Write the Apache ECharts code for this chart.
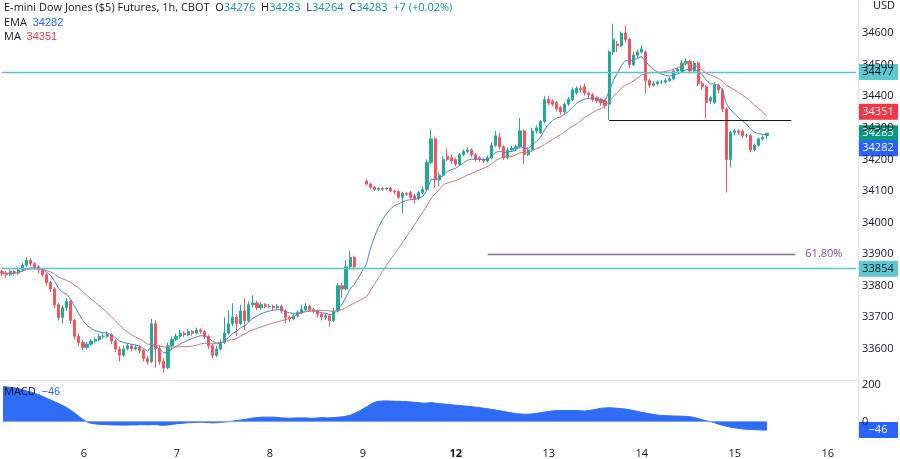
<!DOCTYPE html>
<html><head><meta charset="utf-8">
<script src="https://cdn.jsdelivr.net/npm/echarts@6/dist/echarts.min.js"></script>
<style>html,body{margin:0;padding:0;background:#fff}#c{width:900px;height:459px}</style>
</head><body><div id="c"></div>
<script>
// [open, close, low, high] per hourly candle; null = session break
const ohlc = [
[33845,33840,33830,33850],[33840,33835,33825,33848],[33835,33845,33830,33852],[33845,33840,33832,33850],[33840,33850,33835,33858],
[33850,33865,33845,33872],[33865,33880,33860,33890],[33880,33870,33862,33888],[33870,33860,33850,33875],[33860,33850,33840,33866],
[33850,33835,33828,33855],[33835,33810,33800,33840],[33810,33790,33780,33815],[33790,33740,33730,33795],[33740,33700,33690,33745],
[33700,33730,33680,33738],[33730,33750,33720,33760],[33750,33690,33680,33755],[33690,33640,33630,33695],[33640,33620,33610,33650],
[33620,33605,33595,33628],[33605,33615,33598,33622],[33615,33625,33610,33632],[33625,33630,33618,33638],[33630,33640,33625,33648],
[33640,33640,33632,33650],[33640,33645,33635,33655],[33645,33625,33615,33650],[33625,33600,33590,33630],[33600,33580,33560,33608],
[33580,33600,33575,33610],[33600,33610,33595,33618],[33610,33600,33592,33616],[33600,33605,33595,33612],[33605,33595,33585,33610],
[33595,33570,33560,33600],[33570,33560,33550,33578],[33560,33680,33555,33695],[33680,33600,33540,33690],[33600,33560,33550,33610],
[33560,33540,33525,33570],[33540,33610,33535,33620],[33610,33630,33600,33640],[33630,33640,33625,33648],[33640,33650,33632,33660],
[33650,33645,33638,33656],[33645,33655,33640,33662],[33655,33650,33642,33660],[33650,33660,33645,33668],[33660,33655,33648,33665],
[33655,33640,33632,33660],[33640,33610,33600,33645],[33610,33580,33570,33615],[33580,33600,33575,33610],[33600,33620,33595,33630],
[33620,33650,33615,33700],[33650,33680,33645,33720],[33680,33700,33672,33745],[33700,33680,33640,33710],[33680,33720,33675,33740],
[33720,33690,33660,33760],[33690,33740,33685,33750],[33740,33745,33732,33770],[33745,33730,33722,33752],[33730,33740,33725,33748],
[33740,33735,33728,33745],[33735,33735,33728,33742],[33735,33730,33722,33740],[33730,33735,33725,33742],[33735,33720,33712,33740],
[33720,33700,33680,33725],[33700,33695,33685,33705],[33695,33705,33690,33712],[33705,33715,33700,33722],[33715,33725,33710,33740],
[33725,33735,33720,33745],[33735,33725,33718,33740],[33725,33720,33712,33730],[33720,33710,33700,33725],[33710,33700,33690,33715],
[33700,33705,33692,33712],[33705,33690,33670,33710],[33690,33720,33685,33730],[33720,33800,33715,33810],[33800,33790,33760,33810],
[33790,33860,33785,33880],[33860,33890,33850,33910],[33890,33860,33850,33895],
null,null,
[34132,34122,34118,34136],[34122,34112,34108,34126],[34112,34105,34100,34116],[34105,34108,34100,34112],[34108,34106,34100,34112],
[34106,34108,34102,34112],[34108,34100,34095,34112],[34100,34098,34090,34104],[34098,34080,34075,34102],[34080,34092,34030,34098],
[34092,34090,34084,34096],[34095,34080,34075,34100],[34085,34075,34060,34090],[34075,34095,34070,34100],[34095,34105,34090,34115],
[34105,34190,34100,34200],[34190,34265,34185,34295],[34265,34135,34110,34270],[34135,34150,34115,34160],[34150,34200,34145,34210],
[34210,34200,34195,34235],[34205,34195,34185,34215],[34200,34185,34178,34205],[34185,34215,34180,34220],[34215,34225,34210,34232],
[34225,34230,34220,34238],[34230,34215,34208,34235],[34215,34200,34192,34220],[34205,34200,34192,34210],[34200,34195,34188,34205],
[34195,34205,34190,34212],[34205,34245,34200,34255],[34245,34275,34240,34290],[34270,34240,34232,34285],[34240,34205,34198,34245],
[34205,34230,34200,34238],[34230,34235,34225,34242],[34235,34240,34228,34248],[34240,34290,34235,34330],[34290,34215,34185,34295],
[34215,34230,34210,34238],[34230,34290,34225,34300],[34290,34300,34282,34308],[34285,34320,34280,34325],[34320,34390,34315,34400],
[34390,34380,34372,34402],[34385,34375,34368,34390],[34380,34360,34352,34385],[34365,34350,34342,34370],[34350,34375,34345,34380],
[34375,34390,34370,34398],[34390,34420,34385,34428],[34410,34425,34405,34432],[34425,34420,34412,34435],[34430,34410,34402,34440],
[34410,34405,34395,34415],[34405,34390,34382,34410],[34395,34385,34378,34400],[34390,34380,34370,34395],[34385,34370,34360,34392],
[34375,34540,34325,34545],[34540,34580,34530,34630],[34565,34560,34540,34575],[34560,34600,34555,34605],[34600,34580,34570,34625],
[34580,34500,34490,34585],[34500,34530,34495,34540],[34530,34540,34522,34548],[34540,34550,34535,34562],[34540,34450,34410,34545],
[34450,34435,34428,34455],[34435,34440,34430,34448],[34440,34445,34435,34450],[34445,34445,34438,34452],[34445,34450,34440,34456],
[34450,34455,34445,34460],[34455,34480,34450,34485],[34480,34485,34475,34492],[34480,34505,34475,34515],[34505,34510,34498,34520],
[34510,34480,34472,34515],[34480,34505,34475,34512],[34505,34440,34432,34510],[34440,34430,34420,34448],[34430,34380,34330,34435],
[34385,34395,34375,34402],[34380,34435,34375,34445],[34435,34420,34410,34440],[34420,34360,34350,34425],[34360,34200,34095,34365],
[34200,34285,34175,34290],[34285,34290,34275,34298],[34290,34285,34278,34295],[34290,34275,34268,34295],[34275,34275,34268,34282],
[34275,34230,34222,34280],[34230,34245,34225,34250],[34245,34265,34240,34270],[34265,34270,34260,34276],[34276,34283,34264,34283]
];
const macd = [
190,188,185,182,178,172,165,160,152,145,135,125,115,105,95,85,72,58,42,25,8,
-5,-10,-13,-15,-16,-17,-18,-18,-19,-19,-19,-18,-18,-17,-17,
-18,-16,-17,-20,-20,-18,-15,-12,-10,-8,-6,-5,-4,-3,-5,-6,-7,-6,-4,-2,
0,3,6,9,12,16,20,22,24,24,24,24,22,20,19,18,19,20,20,20,
18,18,20,22,20,21,22,24,26,30,35,45,55,68,
80,95,105,110,112,112,111,110,110,109,
108,106,104,102,100,101,103,100,97,95,
93,91,89,87,85,83,81,78,75,72,
69,66,62,58,54,50,46,43,41,40,
40,42,45,48,52,55,58,60,60,60,
60,60,60,58,57,60,64,68,72,74,
75,74,72,70,68,64,60,55,50,46,
42,38,35,33,32,31,30,30,29,28,
26,22,16,10,4,0,-6,-14,-20,-26,
-30,-34,-37,-40,-42,-43,-44,-45,-46,-46
];
const dayLabels = {20:'6',43:'7',66:'8',89:'9',112:'12',135:'13',158:'14',181:'15',204:'16'};
const levels = {resistance:34477, support:33854, box:34325, fib:33900};
const NCAT = 212;

const cats = Array.from({length:NCAT},(_,i)=>String(i));
const closes = ohlc.map(d=>d?d[1]:null);
// indicators computed from closes (EMA 9, SMA 20)
const ema=[], ma=[]; let e=null; const win=[];
closes.forEach((c,i)=>{
  if(c==null){ema.push(null);ma.push(null);return;}
  e = e==null? c : (c*2/10 + e*8/10); ema.push(+e.toFixed(1));
  win.push(c); if(win.length>20) win.shift();
  ma.push(+(win.reduce((a,b)=>a+b,0)/win.length).toFixed(1));
});
const candleData = ohlc.map(d=>d?[d[0],d[1],d[2],d[3]]:'-');

const UP='#22ab94', DN='#f7525f';
const chart = echarts.init(document.getElementById('c'));
const lab = {color:'#131722',fontSize:11,fontFamily:'Open Sans, sans-serif'};
chart.setOption({
  animation:false,
  grid:[{left:0,right:42,top:1.5,height:379},{left:0,right:42,top:381,height:65.6}],
  xAxis:[
    {type:'category',data:cats,gridIndex:0,boundaryGap:true,axisLine:{show:false},axisTick:{show:false},axisLabel:{show:false},splitLine:{show:false}},
    {type:'category',data:cats,gridIndex:1,boundaryGap:true,axisLine:{show:false},axisTick:{show:false},splitLine:{show:false},
     axisLabel:{interval:0,margin:8,fontSize:11,color:'#131722',fontFamily:'Open Sans, sans-serif',
       formatter:(v)=>dayLabels[v]?(dayLabels[v]==='12'?'{b|12}':dayLabels[v]):'',
       rich:{b:{fontWeight:'bold',fontSize:11,color:'#131722'}}}}
  ],
  yAxis:[
    {type:'value',gridIndex:0,position:'right',min:33500,max:34700,interval:100,scale:true,
     axisLine:{show:true,lineStyle:{color:'#e0e3eb'}},axisTick:{show:false},splitLine:{show:false},
     axisLabel:Object.assign({margin:4,formatter:v=>(v===34700||v===33500)?'':v},lab)},
    {type:'value',gridIndex:1,position:'right',min:-100,max:220,interval:100,
     axisLine:{show:true,lineStyle:{color:'#e0e3eb'}},axisTick:{show:false},splitLine:{show:false},
     axisLabel:Object.assign({margin:4,formatter:v=>(v===0||v===200)?String(v):''},lab)}
  ],
  series:[
    {type:'candlestick',name:'price',data:candleData,barWidth:'65%',
     itemStyle:{color:UP,color0:DN,borderColor:UP,borderColor0:DN,borderWidth:1},
     markLine:{symbol:'none',silent:true,label:{show:false},data:[
       [{coord:['0',levels.resistance],lineStyle:{color:'#5bc2cc',width:1.3,type:'solid'}},{coord:['211',levels.resistance]}],
       [{coord:['0',levels.support],lineStyle:{color:'#5bc2cc',width:1.3,type:'solid'}},{coord:['211',levels.support]}],
       [{coord:['150',levels.box],lineStyle:{color:'#131722',width:1,type:'solid'}},{coord:['195',levels.box]}],
       [{coord:['120',levels.fib],lineStyle:{color:'#8a6f8d',width:1.3,type:'solid'}},{coord:['196',levels.fib]}]
     ]}},
    {type:'line',name:'EMA',data:ema,showSymbol:false,connectNulls:true,lineStyle:{color:'#4f7fd6',width:1},z:3},
    {type:'line',name:'MA',data:ma,showSymbol:false,connectNulls:true,lineStyle:{color:'#d9757d',width:1},z:3},
    {type:'line',name:'MACD',xAxisIndex:1,yAxisIndex:1,data:macd,showSymbol:false,
     lineStyle:{color:'#2f6cf5',width:1},areaStyle:{color:'#2f6cf5',opacity:1,origin:0}},
    {type:'line',xAxisIndex:1,yAxisIndex:1,data:macd.map(()=>0),showSymbol:false,lineStyle:{color:'#7ba3f7',width:1},silent:true}
  ]
});
function py(v){return chart.convertToPixel({yAxisIndex:0},v);}
function tag(y,text,bg,fg){return {type:'group',x:858,y:y-8,z:100,children:[
  {type:'rect',shape:{x:0,y:0,width:40,height:16,r:1},style:{fill:bg}},
  {type:'text',style:{x:20,y:8,text:text,fill:fg,fontSize:11,fontFamily:'Open Sans, sans-serif',align:'center',verticalAlign:'middle'}}]};}
const macdY = chart.convertToPixel({yAxisIndex:1},-46);
const fibX = chart.convertToPixel({xAxisIndex:0},'197');
chart.setOption({graphic:[
  {type:'rect',shape:{x:0,y:380,width:858,height:1},style:{fill:'#e0e3eb'}},
  tag(py(levels.resistance),'34477','#5bc8d2','#131722'),
  tag(py(levels.support),'33854','#5bc8d2','#131722'),
  tag(py(34351),'34351','#f23645','#fff'),
  tag(py(34283),'34283','#089981','#fff'),
  tag(py(34283)+15,'34282','#2962ff','#fff'),
  tag(macdY,'−46','#2962ff','#fff'),
  {type:'text',style:{x:873,y:0,text:'USD',fill:'#131722',fontSize:11,fontFamily:'Open Sans, sans-serif'}},
  {type:'text',style:{x:fibX+6,y:py(levels.fib)-6,text:'61.80%',fill:'#7b4f9a',fontSize:11,fontFamily:'Open Sans, sans-serif'}},
  {type:'text',z:100,style:{x:4,y:2,fontSize:11,fontFamily:'Open Sans, sans-serif',fill:'#131722',
    text:'E-mini Dow Jones ($5) Futures, 1h, CBOT  O{g|34276}  H{g|34283}  L{g|34264}  C{g|34283}  {g|+7 (+0.02%)}',
    rich:{g:{fill:'#089981',fontSize:11,fontFamily:'Open Sans, sans-serif'}}}},
  {type:'text',z:100,style:{x:4,y:17,fontSize:11,fontFamily:'Open Sans, sans-serif',fill:'#131722',text:'EMA  {b|34282}',rich:{b:{fill:'#2962ff',fontSize:11}}}},
  {type:'text',z:100,style:{x:4,y:31,fontSize:11,fontFamily:'Open Sans, sans-serif',fill:'#131722',text:'MA  {r|34351}',rich:{r:{fill:'#f23645',fontSize:11}}}},
  {type:'text',z:100,style:{x:4,y:386,fontSize:11,fontFamily:'Open Sans, sans-serif',fill:'#131722',text:'MACD  {b|−46}',rich:{b:{fill:'#2962ff',fontSize:11}}}}
]});
</script></body></html>
